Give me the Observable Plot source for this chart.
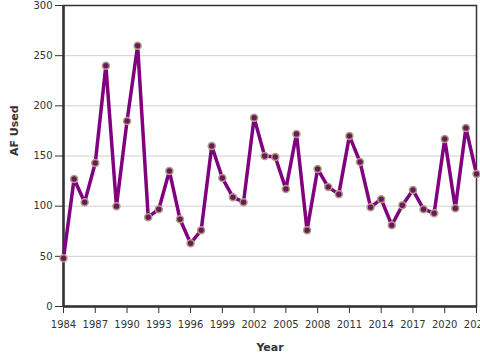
<!DOCTYPE html>
<html>
<head>
<meta charset="utf-8">
<script src="https://cdn.jsdelivr.net/npm/d3@7"></script>
<script src="https://cdn.jsdelivr.net/npm/@observablehq/plot@0.6"></script>
<style>
  body { margin: 0; background: white; }
</style>
</head>
<body>
<div id="chart"></div>
<script>
const years = [1984, 1985, 1986, 1987, 1988, 1989, 1990, 1991, 1992, 1993,
  1994, 1995, 1996, 1997, 1998, 1999, 2000, 2001, 2002, 2003,
  2004, 2005, 2006, 2007, 2008, 2009, 2010, 2011, 2012, 2013,
  2014, 2015, 2016, 2017, 2018, 2019, 2020, 2021, 2022, 2023];
const afUsed = [48, 127, 104, 143, 240, 100, 185, 260, 89, 97,
  135, 87, 63, 76, 160, 128, 109, 104, 188, 150,
  149, 117, 172, 76, 137, 119, 112, 170, 144, 99,
  107, 81, 101, 116, 97, 93, 167, 98, 178, 132];
const xTicks = [1984, 1987, 1990, 1993, 1996, 1999, 2002, 2005, 2008, 2011, 2014, 2017, 2020, 2023];
const yTicks = [0, 50, 100, 150, 200, 250, 300];
const gridValues = [50, 100, 150, 200, 250];
const xTitle = "Year";
const yTitle = "AF Used";

const data = years.map((yr, i) => ({year: yr, value: afUsed[i]}));

const chart = Plot.plot({
  width: 480,
  height: 360,
  marginLeft: 63,
  marginRight: 4,
  marginTop: 5,
  marginBottom: 54,
  style: {fontFamily: "DejaVu Sans", fontSize: "10px", color: "#333", background: "white"},
  x: {domain: [1984, 2023]},
  y: {domain: [0, 300]},
  marks: [
    Plot.ruleY(gridValues, {stroke: "#d0d0d0", strokeWidth: 1}),
    Plot.frame({stroke: "#333", strokeWidth: 1.5}),
    Plot.axisX({ticks: xTicks, tickFormat: "d", tickSize: 7, tickPadding: 7, label: null, stroke: "#333", fill: "#333"}),
    Plot.axisY({ticks: yTicks, tickSize: 8, tickPadding: 3, label: null, stroke: "#333", fill: "#333"}),
    Plot.ruleX([1984], {stroke: "#333", strokeWidth: 2.5}),
    Plot.ruleY([0], {stroke: "#333", strokeWidth: 2.5}),
    Plot.line(data, {x: "year", y: "value", stroke: "#800080", strokeWidth: 3.5}),
    Plot.dot(data, {x: "year", y: "value", r: 3.5, fill: "#6a1a5c", stroke: "#b09e82", strokeWidth: 1.5}),
    Plot.text([xTitle], {frameAnchor: "bottom", dy: 44, text: d => d, fontWeight: "bold", fontSize: 11, fill: "#333"}),
    Plot.text([yTitle], {frameAnchor: "left", dx: -49, rotate: -90, text: d => d, fontWeight: "bold", fontSize: 11, fill: "#333"})
  ]
});
document.getElementById("chart").appendChild(chart);
</script>
</body>
</html>
